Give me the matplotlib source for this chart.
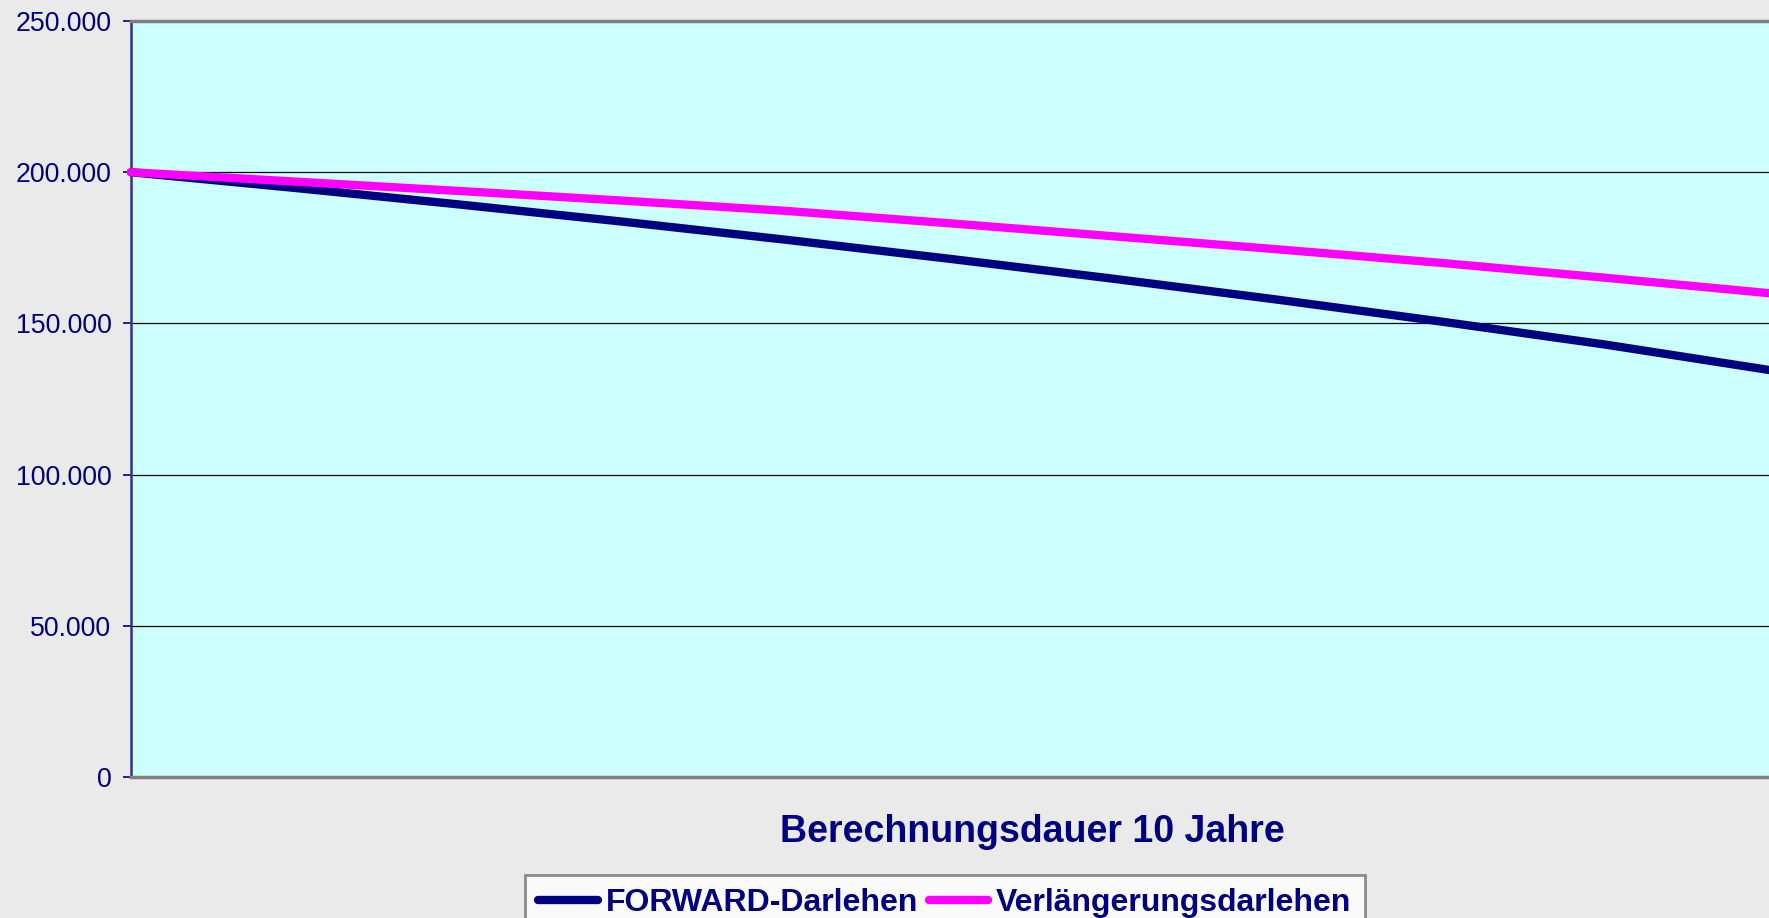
import matplotlib
matplotlib.use("Agg")
import matplotlib.pyplot as plt
from matplotlib.ticker import FuncFormatter, MultipleLocator

# Data (yearly values over 10 years)
years = [0, 1, 2, 3, 4, 5, 6, 7, 8, 9, 10]
forward = [200000, 194800, 189350, 183650, 177650, 171350, 164750, 157850, 150600, 143000, 134600]
verlaengerung = [200000, 196900, 193800, 190600, 187200, 183100, 178800, 174500, 170000, 165100, 160000]
series_names = ["FORWARD-Darlehen", "Verlängerungsdarlehen"]
x_title = "Berechnungsdauer 10 Jahre"

W, H = 1769, 918
fig = plt.figure(figsize=(W / 100, H / 100), dpi=100)
fig.patch.set_facecolor("#EAEAEA")
plt.rcParams['font.family'] = ['Liberation Sans', 'DejaVu Sans']

left, right, top, bottom = 131, 1769, 21, 777
ax = fig.add_axes([left / W, 1 - bottom / H, (right - left) / W, (bottom - top) / H])
ax.set_facecolor("#CCFFFF")

navy = "#000080"
magenta = "#FF00FF"

ax.plot(years, forward, color=navy, lw=6.0, solid_capstyle="round", solid_joinstyle="round",
        clip_on=False, zorder=3, label=series_names[0])
ax.plot(years, verlaengerung, color=magenta, lw=6.0, solid_capstyle="round", solid_joinstyle="round",
        clip_on=False, zorder=4, label=series_names[1])

ax.set_xlim(0, 10)
ax.set_ylim(0, 250000)
ax.yaxis.set_major_locator(MultipleLocator(50000))
ax.yaxis.set_major_formatter(FuncFormatter(lambda v, p: f"{int(v):,}".replace(",", ".")))
ax.grid(axis="y", color="black", lw=0.9, zorder=1)
ax.set_axisbelow(True)
ax.set_xticks([])
ax.tick_params(axis="y", colors=navy, labelsize=19.2, length=6, width=1.2, pad=8, direction="out")
for lbl in ax.get_yticklabels():
    lbl.set_color(navy)

ax.spines["left"].set_color("#333388")
ax.spines["left"].set_linewidth(1.8)
ax.spines["top"].set_color("#808080")
ax.spines["top"].set_linewidth(2.5)
ax.spines["bottom"].set_color("#808080")
ax.spines["bottom"].set_linewidth(2.5)
ax.spines["right"].set_visible(False)

fig.text(1032 / W, 1 - 842 / H, x_title, ha="center", va="baseline",
         fontsize=27, fontweight="bold", color=navy)

handles, labels = ax.get_legend_handles_labels()
leg = fig.legend(handles, labels, loc="upper left",
                 bbox_to_anchor=(525 / W, 1 - 875 / H), ncol=2, frameon=True,
                 fancybox=False, borderaxespad=0, borderpad=0.42,
                 prop={"size": 23.0, "weight": "bold"},
                 handlelength=1.85, handletextpad=0.25, columnspacing=0.35)
leg.get_frame().set_edgecolor("#707070")
leg.get_frame().set_linewidth(2)
leg.get_frame().set_facecolor("white")
for t in leg.get_texts():
    t.set_color(navy)

fig.savefig("out.png", dpi=100, facecolor=fig.get_facecolor())
